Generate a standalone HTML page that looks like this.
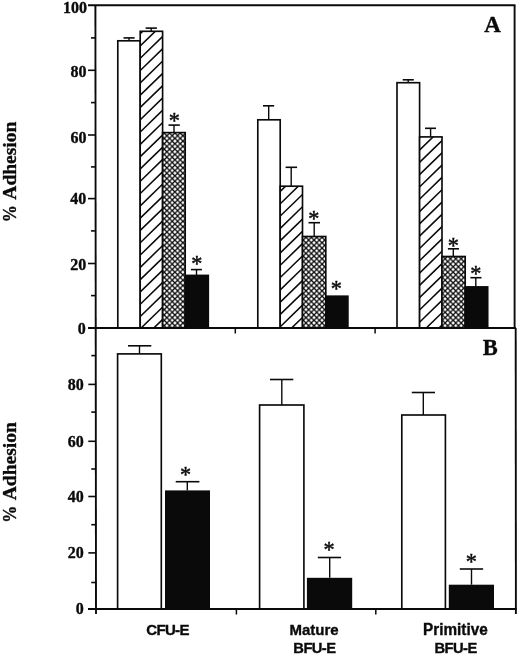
<!DOCTYPE html>
<html><head><meta charset="utf-8"><title>Adhesion</title>
<style>html,body{margin:0;padding:0;background:#fff}svg{display:block}</style>
</head><body>
<svg width="520" height="656" viewBox="0 0 520 656">
<rect width="520" height="656" fill="#fff"/>
<defs>
<pattern id="x" patternUnits="userSpaceOnUse" width="5.35" height="5.35" x="164.2" y="138.4">
<rect width="5.35" height="5.35" fill="#fff"/>
<path d="M-1,-1 L6.35,6.35 M-1,6.35 L6.35,-1" stroke="#0a0a0a" stroke-width="1.3" fill="none"/>
</pattern>
</defs>
<line x1="129.00" y1="40.80" x2="129.00" y2="37.90" stroke="#0a0a0a" stroke-width="1.4" />
<line x1="123.50" y1="37.90" x2="134.60" y2="37.90" stroke="#0a0a0a" stroke-width="1.5999999999999999" />
<line x1="151.20" y1="31.30" x2="151.20" y2="28.10" stroke="#0a0a0a" stroke-width="1.4" />
<line x1="145.60" y1="28.10" x2="156.90" y2="28.10" stroke="#0a0a0a" stroke-width="1.5999999999999999" />
<line x1="174.00" y1="132.60" x2="174.00" y2="125.10" stroke="#0a0a0a" stroke-width="1.4" />
<line x1="168.50" y1="125.10" x2="179.80" y2="125.10" stroke="#0a0a0a" stroke-width="1.5999999999999999" />
<line x1="196.50" y1="275.40" x2="196.50" y2="269.60" stroke="#0a0a0a" stroke-width="1.4" />
<line x1="191.00" y1="269.60" x2="201.90" y2="269.60" stroke="#0a0a0a" stroke-width="1.5999999999999999" />
<rect x="117.80" y="40.80" width="22.40" height="287.20" fill="#fff" stroke="#0a0a0a" stroke-width="1.65"/>
<clipPath id="c1"><rect x="140.20" y="31.30" width="22.40" height="296.70"/></clipPath>
<rect x="140.20" y="31.30" width="22.40" height="296.70" fill="#fff"/>
<path clip-path="url(#c1)" d="M138.20,35.61 L164.60,10.00 M138.20,47.91 L164.60,22.30 M138.20,60.21 L164.60,34.60 M138.20,72.51 L164.60,46.90 M138.20,84.81 L164.60,59.20 M138.20,97.11 L164.60,71.50 M138.20,109.41 L164.60,83.80 M138.20,121.71 L164.60,96.10 M138.20,134.01 L164.60,108.40 M138.20,146.31 L164.60,120.70 M138.20,158.61 L164.60,133.00 M138.20,170.91 L164.60,145.30 M138.20,183.21 L164.60,157.60 M138.20,195.51 L164.60,169.90 M138.20,207.81 L164.60,182.20 M138.20,220.11 L164.60,194.50 M138.20,232.41 L164.60,206.80 M138.20,244.71 L164.60,219.10 M138.20,257.01 L164.60,231.40 M138.20,269.31 L164.60,243.70 M138.20,281.61 L164.60,256.00 M138.20,293.91 L164.60,268.30 M138.20,306.21 L164.60,280.60 M138.20,318.51 L164.60,292.90 M138.20,330.81 L164.60,305.20 M138.20,343.11 L164.60,317.50 M138.20,355.41 L164.60,329.80" stroke="#0a0a0a" stroke-width="1.55" fill="none"/>
<rect x="140.20" y="31.30" width="22.40" height="296.70" fill="none" stroke="#0a0a0a" stroke-width="1.65"/>
<rect x="162.60" y="132.60" width="22.60" height="195.40" fill="url(#x)" stroke="#0a0a0a" stroke-width="1.65"/>
<rect x="185.20" y="275.40" width="23.10" height="52.60" fill="#0a0a0a" stroke="#0a0a0a" stroke-width="1.65"/>
<line x1="268.70" y1="119.80" x2="268.70" y2="105.80" stroke="#0a0a0a" stroke-width="1.4" />
<line x1="263.00" y1="105.80" x2="274.20" y2="105.80" stroke="#0a0a0a" stroke-width="1.5999999999999999" />
<line x1="291.20" y1="186.20" x2="291.20" y2="167.30" stroke="#0a0a0a" stroke-width="1.4" />
<line x1="285.60" y1="167.30" x2="297.10" y2="167.30" stroke="#0a0a0a" stroke-width="1.5999999999999999" />
<line x1="314.20" y1="236.50" x2="314.20" y2="222.70" stroke="#0a0a0a" stroke-width="1.4" />
<line x1="308.50" y1="222.70" x2="320.00" y2="222.70" stroke="#0a0a0a" stroke-width="1.5999999999999999" />
<rect x="257.80" y="119.80" width="22.40" height="208.20" fill="#fff" stroke="#0a0a0a" stroke-width="1.65"/>
<clipPath id="c2"><rect x="280.20" y="186.20" width="22.30" height="141.80"/></clipPath>
<rect x="280.20" y="186.20" width="22.30" height="141.80" fill="#fff"/>
<path clip-path="url(#c2)" d="M278.20,193.42 L304.50,167.91 M278.20,205.72 L304.50,180.21 M278.20,218.02 L304.50,192.51 M278.20,230.32 L304.50,204.81 M278.20,242.62 L304.50,217.11 M278.20,254.92 L304.50,229.41 M278.20,267.22 L304.50,241.71 M278.20,279.52 L304.50,254.01 M278.20,291.82 L304.50,266.31 M278.20,304.12 L304.50,278.61 M278.20,316.42 L304.50,290.91 M278.20,328.72 L304.50,303.21 M278.20,341.02 L304.50,315.51 M278.20,353.32 L304.50,327.81" stroke="#0a0a0a" stroke-width="1.55" fill="none"/>
<rect x="280.20" y="186.20" width="22.30" height="141.80" fill="none" stroke="#0a0a0a" stroke-width="1.65"/>
<rect x="302.50" y="236.50" width="23.30" height="91.50" fill="url(#x)" stroke="#0a0a0a" stroke-width="1.65"/>
<rect x="325.80" y="296.20" width="22.10" height="31.80" fill="#0a0a0a" stroke="#0a0a0a" stroke-width="1.65"/>
<line x1="408.20" y1="82.70" x2="408.20" y2="79.80" stroke="#0a0a0a" stroke-width="1.4" />
<line x1="402.70" y1="79.80" x2="413.80" y2="79.80" stroke="#0a0a0a" stroke-width="1.5999999999999999" />
<line x1="430.60" y1="136.90" x2="430.60" y2="128.30" stroke="#0a0a0a" stroke-width="1.4" />
<line x1="425.00" y1="128.30" x2="436.00" y2="128.30" stroke="#0a0a0a" stroke-width="1.5999999999999999" />
<line x1="453.30" y1="256.50" x2="453.30" y2="248.80" stroke="#0a0a0a" stroke-width="1.4" />
<line x1="447.90" y1="248.80" x2="459.00" y2="248.80" stroke="#0a0a0a" stroke-width="1.5999999999999999" />
<line x1="475.80" y1="286.90" x2="475.80" y2="277.70" stroke="#0a0a0a" stroke-width="1.4" />
<line x1="470.40" y1="277.70" x2="481.50" y2="277.70" stroke="#0a0a0a" stroke-width="1.5999999999999999" />
<rect x="397.00" y="82.70" width="22.60" height="245.30" fill="#fff" stroke="#0a0a0a" stroke-width="1.65"/>
<clipPath id="c3"><rect x="419.60" y="136.90" width="22.40" height="191.10"/></clipPath>
<rect x="419.60" y="136.90" width="22.40" height="191.10" fill="#fff"/>
<path clip-path="url(#c3)" d="M417.60,139.62 L444.00,114.01 M417.60,151.92 L444.00,126.31 M417.60,164.22 L444.00,138.61 M417.60,176.52 L444.00,150.91 M417.60,188.82 L444.00,163.21 M417.60,201.12 L444.00,175.51 M417.60,213.42 L444.00,187.81 M417.60,225.72 L444.00,200.11 M417.60,238.02 L444.00,212.41 M417.60,250.32 L444.00,224.71 M417.60,262.62 L444.00,237.01 M417.60,274.92 L444.00,249.31 M417.60,287.22 L444.00,261.61 M417.60,299.52 L444.00,273.91 M417.60,311.82 L444.00,286.21 M417.60,324.12 L444.00,298.51 M417.60,336.42 L444.00,310.81 M417.60,348.72 L444.00,323.11" stroke="#0a0a0a" stroke-width="1.55" fill="none"/>
<rect x="419.60" y="136.90" width="22.40" height="191.10" fill="none" stroke="#0a0a0a" stroke-width="1.65"/>
<rect x="442.00" y="256.50" width="23.20" height="71.50" fill="url(#x)" stroke="#0a0a0a" stroke-width="1.65"/>
<rect x="465.20" y="286.90" width="22.50" height="41.10" fill="#0a0a0a" stroke="#0a0a0a" stroke-width="1.65"/>
<line x1="139.50" y1="353.90" x2="139.50" y2="345.80" stroke="#0a0a0a" stroke-width="1.4" />
<line x1="128.00" y1="345.80" x2="151.30" y2="345.80" stroke="#0a0a0a" stroke-width="1.5999999999999999" />
<rect x="117.60" y="353.90" width="43.70" height="255.10" fill="#fff" stroke="#0a0a0a" stroke-width="1.65"/>
<line x1="187.30" y1="490.40" x2="187.30" y2="481.70" stroke="#0a0a0a" stroke-width="1.4" />
<line x1="175.70" y1="481.70" x2="199.40" y2="481.70" stroke="#0a0a0a" stroke-width="1.5999999999999999" />
<rect x="165.00" y="490.40" width="45.00" height="118.60" fill="#0a0a0a"/>
<line x1="281.80" y1="405.00" x2="281.80" y2="379.50" stroke="#0a0a0a" stroke-width="1.4" />
<line x1="270.00" y1="379.50" x2="293.30" y2="379.50" stroke="#0a0a0a" stroke-width="1.5999999999999999" />
<rect x="259.60" y="405.00" width="44.30" height="204.00" fill="#fff" stroke="#0a0a0a" stroke-width="1.65"/>
<line x1="329.70" y1="577.80" x2="329.70" y2="557.50" stroke="#0a0a0a" stroke-width="1.4" />
<line x1="317.80" y1="557.50" x2="341.00" y2="557.50" stroke="#0a0a0a" stroke-width="1.5999999999999999" />
<rect x="306.90" y="577.80" width="45.30" height="31.20" fill="#0a0a0a"/>
<line x1="423.30" y1="415.00" x2="423.30" y2="392.50" stroke="#0a0a0a" stroke-width="1.4" />
<line x1="411.80" y1="392.50" x2="435.00" y2="392.50" stroke="#0a0a0a" stroke-width="1.5999999999999999" />
<rect x="401.80" y="415.00" width="43.60" height="194.00" fill="#fff" stroke="#0a0a0a" stroke-width="1.65"/>
<line x1="471.50" y1="584.70" x2="471.50" y2="569.00" stroke="#0a0a0a" stroke-width="1.4" />
<line x1="459.80" y1="569.00" x2="483.10" y2="569.00" stroke="#0a0a0a" stroke-width="1.5999999999999999" />
<rect x="448.80" y="584.70" width="45.20" height="24.30" fill="#0a0a0a"/>
<text x="174.40" y="128.29" font-family="'Liberation Serif', serif" font-weight="normal" font-size="22.3" text-anchor="middle" fill="#0a0a0a" stroke="#0a0a0a" stroke-width="0.45" >*</text>
<text x="196.75" y="271.49" font-family="'Liberation Serif', serif" font-weight="normal" font-size="22.3" text-anchor="middle" fill="#0a0a0a" stroke="#0a0a0a" stroke-width="0.45" >*</text>
<text x="313.80" y="225.89" font-family="'Liberation Serif', serif" font-weight="normal" font-size="22.3" text-anchor="middle" fill="#0a0a0a" stroke="#0a0a0a" stroke-width="0.45" >*</text>
<text x="336.30" y="295.59" font-family="'Liberation Serif', serif" font-weight="normal" font-size="22.3" text-anchor="middle" fill="#0a0a0a" stroke="#0a0a0a" stroke-width="0.45" >*</text>
<text x="453.30" y="253.44" font-family="'Liberation Serif', serif" font-weight="normal" font-size="22.3" text-anchor="middle" fill="#0a0a0a" stroke="#0a0a0a" stroke-width="0.45" >*</text>
<text x="475.80" y="281.34" font-family="'Liberation Serif', serif" font-weight="normal" font-size="22.3" text-anchor="middle" fill="#0a0a0a" stroke="#0a0a0a" stroke-width="0.45" >*</text>
<text x="185.60" y="481.54" font-family="'Liberation Serif', serif" font-weight="normal" font-size="22.3" text-anchor="middle" fill="#0a0a0a" stroke="#0a0a0a" stroke-width="0.45" >*</text>
<text x="329.00" y="557.49" font-family="'Liberation Serif', serif" font-weight="normal" font-size="22.3" text-anchor="middle" fill="#0a0a0a" stroke="#0a0a0a" stroke-width="0.45" >*</text>
<text x="471.40" y="568.89" font-family="'Liberation Serif', serif" font-weight="normal" font-size="22.3" text-anchor="middle" fill="#0a0a0a" stroke="#0a0a0a" stroke-width="0.45" >*</text>
<line x1="88.00" y1="5.25" x2="515.45" y2="5.25" stroke="#0a0a0a" stroke-width="1.9" />
<line x1="88.00" y1="328.00" x2="515.90" y2="328.00" stroke="#0a0a0a" stroke-width="1.9" />
<line x1="88.00" y1="609.00" x2="516.70" y2="609.00" stroke="#0a0a0a" stroke-width="1.9" />
<line x1="95.40" y1="5.25" x2="96.00" y2="614.00" stroke="#0a0a0a" stroke-width="1.9" />
<line x1="514.60" y1="5.25" x2="514.60" y2="328.00" stroke="#0a0a0a" stroke-width="1.9" />
<line x1="515.70" y1="328.00" x2="515.90" y2="614.00" stroke="#0a0a0a" stroke-width="1.9" />
<line x1="91.00" y1="295.60" x2="95.50" y2="295.60" stroke="#0a0a0a" stroke-width="1.6" />
<line x1="91.30" y1="582.50" x2="95.80" y2="582.50" stroke="#0a0a0a" stroke-width="1.6" />
<line x1="88.00" y1="263.50" x2="95.50" y2="263.50" stroke="#0a0a0a" stroke-width="1.6" />
<line x1="88.30" y1="552.90" x2="95.80" y2="552.90" stroke="#0a0a0a" stroke-width="1.6" />
<line x1="91.00" y1="230.90" x2="95.50" y2="230.90" stroke="#0a0a0a" stroke-width="1.6" />
<line x1="91.30" y1="524.70" x2="95.80" y2="524.70" stroke="#0a0a0a" stroke-width="1.6" />
<line x1="88.00" y1="198.60" x2="95.50" y2="198.60" stroke="#0a0a0a" stroke-width="1.6" />
<line x1="88.30" y1="496.50" x2="95.80" y2="496.50" stroke="#0a0a0a" stroke-width="1.6" />
<line x1="91.00" y1="166.90" x2="95.50" y2="166.90" stroke="#0a0a0a" stroke-width="1.6" />
<line x1="91.30" y1="469.00" x2="95.80" y2="469.00" stroke="#0a0a0a" stroke-width="1.6" />
<line x1="88.00" y1="135.00" x2="95.50" y2="135.00" stroke="#0a0a0a" stroke-width="1.6" />
<line x1="88.30" y1="441.30" x2="95.80" y2="441.30" stroke="#0a0a0a" stroke-width="1.6" />
<line x1="91.00" y1="102.60" x2="95.50" y2="102.60" stroke="#0a0a0a" stroke-width="1.6" />
<line x1="91.30" y1="412.10" x2="95.80" y2="412.10" stroke="#0a0a0a" stroke-width="1.6" />
<line x1="88.00" y1="70.30" x2="95.50" y2="70.30" stroke="#0a0a0a" stroke-width="1.6" />
<line x1="88.30" y1="384.40" x2="95.80" y2="384.40" stroke="#0a0a0a" stroke-width="1.6" />
<line x1="91.00" y1="37.90" x2="95.50" y2="37.90" stroke="#0a0a0a" stroke-width="1.6" />
<line x1="91.30" y1="355.60" x2="95.80" y2="355.60" stroke="#0a0a0a" stroke-width="1.6" />
<line x1="235.30" y1="328.00" x2="235.30" y2="333.50" stroke="#0a0a0a" stroke-width="1.5" />
<line x1="375.10" y1="328.00" x2="375.10" y2="333.50" stroke="#0a0a0a" stroke-width="1.5" />
<line x1="236.40" y1="609.00" x2="236.40" y2="614.50" stroke="#0a0a0a" stroke-width="1.5" />
<line x1="375.80" y1="609.00" x2="375.80" y2="614.50" stroke="#0a0a0a" stroke-width="1.5" />
<text x="87.00" y="12.80" font-family="'Liberation Serif', serif" font-weight="bold" font-size="16" text-anchor="end" fill="#0a0a0a" stroke="#0a0a0a" stroke-width="0.35" >100</text>
<text x="86.60" y="77.00" font-family="'Liberation Serif', serif" font-weight="bold" font-size="16" text-anchor="end" fill="#0a0a0a" stroke="#0a0a0a" stroke-width="0.35" >80</text>
<text x="86.40" y="142.70" font-family="'Liberation Serif', serif" font-weight="bold" font-size="16" text-anchor="end" fill="#0a0a0a" stroke="#0a0a0a" stroke-width="0.35" >60</text>
<text x="86.20" y="204.30" font-family="'Liberation Serif', serif" font-weight="bold" font-size="16" text-anchor="end" fill="#0a0a0a" stroke="#0a0a0a" stroke-width="0.35" >40</text>
<text x="86.20" y="270.10" font-family="'Liberation Serif', serif" font-weight="bold" font-size="16" text-anchor="end" fill="#0a0a0a" stroke="#0a0a0a" stroke-width="0.35" >20</text>
<text x="85.80" y="334.40" font-family="'Liberation Serif', serif" font-weight="bold" font-size="16" text-anchor="end" fill="#0a0a0a" stroke="#0a0a0a" stroke-width="0.35" >0</text>
<text x="83.70" y="389.80" font-family="'Liberation Serif', serif" font-weight="bold" font-size="16" text-anchor="end" fill="#0a0a0a" stroke="#0a0a0a" stroke-width="0.35" >80</text>
<text x="83.70" y="447.30" font-family="'Liberation Serif', serif" font-weight="bold" font-size="16" text-anchor="end" fill="#0a0a0a" stroke="#0a0a0a" stroke-width="0.35" >60</text>
<text x="83.70" y="502.10" font-family="'Liberation Serif', serif" font-weight="bold" font-size="16" text-anchor="end" fill="#0a0a0a" stroke="#0a0a0a" stroke-width="0.35" >40</text>
<text x="83.70" y="558.40" font-family="'Liberation Serif', serif" font-weight="bold" font-size="16" text-anchor="end" fill="#0a0a0a" stroke="#0a0a0a" stroke-width="0.35" >20</text>
<text x="83.70" y="614.30" font-family="'Liberation Serif', serif" font-weight="bold" font-size="16" text-anchor="end" fill="#0a0a0a" stroke="#0a0a0a" stroke-width="0.35" >0</text>
<text x="492.50" y="32.40" font-family="'Liberation Serif', serif" font-weight="bold" font-size="23" text-anchor="middle" fill="#0a0a0a" stroke="#0a0a0a" stroke-width="0.35" >A</text>
<text x="490.20" y="354.50" font-family="'Liberation Serif', serif" font-weight="bold" font-size="22.5" text-anchor="middle" fill="#0a0a0a" stroke="#0a0a0a" stroke-width="0.35" >B</text>
<text transform="translate(16.1,199.7) rotate(-90)" font-family="'Liberation Serif', serif" font-weight="bold" font-size="19.5" text-anchor="start" fill="#0a0a0a" stroke="#0a0a0a" stroke-width="0.35">Adhesion</text>
<text transform="translate(16.1,222.3) rotate(-90) scale(0.88,1)" font-family="'Liberation Serif', serif" font-weight="bold" font-size="19.5" text-anchor="start" fill="#0a0a0a" stroke="#0a0a0a" stroke-width="0.35">%</text>
<text transform="translate(16.1,500.3) rotate(-90)" font-family="'Liberation Serif', serif" font-weight="bold" font-size="19.5" text-anchor="start" fill="#0a0a0a" stroke="#0a0a0a" stroke-width="0.35">Adhesion</text>
<text transform="translate(16.1,522.7) rotate(-90) scale(0.88,1)" font-family="'Liberation Serif', serif" font-weight="bold" font-size="19.5" text-anchor="start" fill="#0a0a0a" stroke="#0a0a0a" stroke-width="0.35">%</text>
<text transform="translate(167.50,635.20) scale(1,1.02)" font-family="'Liberation Sans', sans-serif" font-weight="bold" font-size="15.0" text-anchor="middle" fill="#0a0a0a" stroke="#0a0a0a" stroke-width="0.35" letter-spacing="-0.65">CFU-E</text>
<text transform="translate(314.00,634.70) scale(1,1.02)" font-family="'Liberation Sans', sans-serif" font-weight="bold" font-size="15" text-anchor="middle" fill="#0a0a0a" stroke="#0a0a0a" stroke-width="0.35" >Mature</text>
<text transform="translate(314.40,653.40) scale(1,1.02)" font-family="'Liberation Sans', sans-serif" font-weight="bold" font-size="14.7" text-anchor="middle" fill="#0a0a0a" stroke="#0a0a0a" stroke-width="0.35" letter-spacing="-0.55">BFU-E</text>
<text transform="translate(455.40,634.70) scale(1,1.02)" font-family="'Liberation Sans', sans-serif" font-weight="bold" font-size="15.3" text-anchor="middle" fill="#0a0a0a" stroke="#0a0a0a" stroke-width="0.35" >Primitive</text>
<text transform="translate(455.60,653.40) scale(1,1.02)" font-family="'Liberation Sans', sans-serif" font-weight="bold" font-size="14.7" text-anchor="middle" fill="#0a0a0a" stroke="#0a0a0a" stroke-width="0.35" letter-spacing="-0.55">BFU-E</text>
</svg>
</body></html>
